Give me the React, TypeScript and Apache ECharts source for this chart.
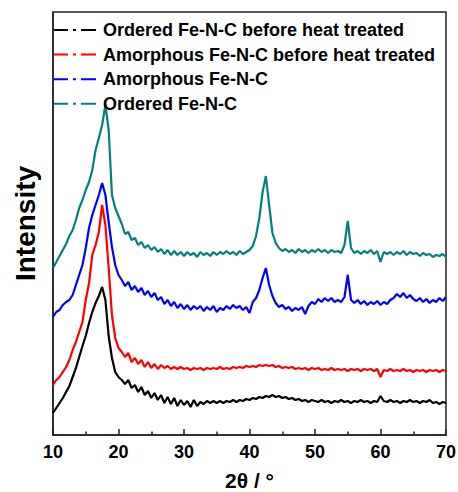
import React, { useEffect, useRef } from "react";
import * as echarts from "echarts";

const seriesNames = [
  "Ordered Fe-N-C before heat treated",
  "Amorphous Fe-N-C before heat treated",
  "Amorphous Fe-N-C",
  "Ordered Fe-N-C",
];
const seriesColors = ["#000000", "#ff0000", "#0000ff", "#008080"];

// 2θ from 10 to 70 in 0.5° steps
const twoTheta: number[] = [
  10, 10.5, 11, 11.5, 12, 12.5, 13, 13.5, 14, 14.5,
  15, 15.5, 16, 16.5, 17, 17.5, 18, 18.5, 19, 19.5,
  20, 20.5, 21, 21.5, 22, 22.5, 23, 23.5, 24, 24.5,
  25, 25.5, 26, 26.5, 27, 27.5, 28, 28.5, 29, 29.5,
  30, 30.5, 31, 31.5, 32, 32.5, 33, 33.5, 34, 34.5,
  35, 35.5, 36, 36.5, 37, 37.5, 38, 38.5, 39, 39.5,
  40, 40.5, 41, 41.5, 42, 42.5, 43, 43.5, 44, 44.5,
  45, 45.5, 46, 46.5, 47, 47.5, 48, 48.5, 49, 49.5,
  50, 50.5, 51, 51.5, 52, 52.5, 53, 53.5, 54, 54.5,
  55, 55.5, 56, 56.5, 57, 57.5, 58, 58.5, 59, 59.5,
  60, 60.5, 61, 61.5, 62, 62.5, 63, 63.5, 64, 64.5,
  65, 65.5, 66, 66.5, 67, 67.5, 68, 68.5, 69, 69.5,
  70,
];

const orderedBefore: number[] = [
  22, 27, 32, 37, 43, 49, 58, 67, 78, 89,
  99, 112, 123, 132, 139, 148, 135, 99, 77, 63,
  58, 55, 51, 55, 47, 50, 43, 48, 40, 44,
  37, 42, 35, 40, 32, 38, 31, 37, 29, 35,
  30, 34, 28, 35, 29, 33, 31, 34, 32, 34,
  32, 34, 32, 34, 33, 35, 33, 35, 34, 36,
  35, 37, 36, 38, 37, 39, 38, 40, 38, 39,
  37, 38, 36, 37, 35, 36, 34, 35, 33, 35,
  34, 33, 35, 33, 34, 32, 34, 33, 35, 33,
  34, 32, 34, 33, 35, 33, 34, 32, 34, 33,
  39, 34, 33, 35, 33, 34, 32, 34, 33, 35,
  33, 34, 32, 34, 33, 35, 32, 33, 31, 33,
  32,
];

const amorphousBefore: number[] = [
  50, 55, 58, 63, 68, 75, 85, 93, 103, 113,
  135, 152, 180, 190, 203, 230, 210, 167, 120, 97,
  87, 83, 78, 82, 73, 77, 71, 75, 68, 73,
  67, 71, 66, 70, 67, 69, 66, 68, 66, 68,
  66, 67, 65, 67, 66, 67, 65, 67, 66, 67,
  66, 68, 66, 67, 66, 68, 67, 68, 67, 69,
  68, 69, 68, 70, 69, 70, 69, 70, 68, 69,
  67, 68, 67, 68, 66, 67, 66, 67, 65, 67,
  66, 67, 65, 66, 65, 67, 65, 66, 65, 66,
  64, 66, 65, 66, 64, 66, 65, 66, 64, 66,
  58, 65, 64, 66, 64, 65, 64, 66, 64, 65,
  63, 65, 64, 65, 63, 65, 64, 65, 63, 65,
  64,
];

const amorphous: number[] = [
  118, 123, 125, 130, 133, 135, 140, 150, 160, 170,
  187, 207, 220, 230, 240, 252, 240, 213, 188, 170,
  160, 155, 149, 153, 145, 149, 143, 147, 140, 144,
  138, 142, 135, 138, 131, 135, 129, 133, 127, 131,
  126, 130, 125, 129, 126, 129, 124, 128, 125, 129,
  123, 127, 125, 129, 126, 130, 127, 129, 125, 128,
  122, 133, 137, 145, 157, 167, 150, 139, 132, 128,
  130, 126, 128, 124, 127, 125, 128, 121, 129, 133,
  131, 136, 133, 137, 134, 137, 133, 135, 133, 138,
  160, 135, 132, 135, 131, 134, 130, 133, 131, 134,
  130, 133, 131, 135, 137, 141, 138, 142, 137, 140,
  136, 134, 137, 133, 136, 132, 135, 133, 137, 134,
  138,
];

const ordered: number[] = [
  167, 173, 179, 185, 191, 199, 205, 215, 227, 235,
  245, 253, 265, 285, 297, 310, 330, 305, 240, 227,
  219, 211, 201, 203, 195, 197, 190, 193, 187, 190,
  185, 188, 183, 186, 181, 185, 180, 184, 180, 183,
  179, 183, 180, 182, 178, 183, 180, 182, 179, 183,
  180, 183, 181, 184, 181, 183, 180, 184, 181, 183,
  185, 189, 199, 217, 243, 259, 230, 202, 192, 187,
  184, 186, 183, 185, 182, 186, 183, 185, 182, 185,
  183, 186, 183, 185, 182, 185, 183, 184, 182, 190,
  214, 187, 182, 184, 181, 184, 182, 185, 181, 184,
  173, 183, 181, 183, 180, 183, 181, 184, 180, 183,
  181, 182, 179, 182, 180, 181, 178, 180, 179, 181,
  178,
];

const seriesValues = [orderedBefore, amorphousBefore, amorphous, ordered];

const xTickValues = [10, 20, 30, 40, 50, 60, 70];

const dashDotIcon =
  "path://M0,0h14v2h-14z M19,0h3v2h-3z M27,0h15v2h-15z";

export default function App() {
  const ref = useRef<HTMLDivElement>(null);

  useEffect(() => {
    if (!ref.current) return;
    const chart = echarts.init(ref.current, undefined, { renderer: "svg" });
    const font = "Arial, 'Liberation Sans', Helvetica, sans-serif";
    chart.setOption({
      animation: false,
      backgroundColor: "#ffffff",
      grid: {
        left: 53,
        right: 12,
        top: 12,
        bottom: 57,
        containLabel: false,
        outerBoundsMode: "none",
        show: true,
        borderColor: "#222222",
        borderWidth: 1.5,
      },
      legend: {
        orient: "vertical",
        left: 54,
        top: 21,
        padding: 0,
        itemWidth: 42,
        itemHeight: 2,
        itemGap: 6.6,
        icon: dashDotIcon,
        textStyle: {
          fontFamily: font,
          fontWeight: "bold",
          fontSize: 18,
          color: "#000000",
          lineHeight: 15,
          padding: [0, 0, 0, 2],
        },
        data: seriesNames.map((name, i) => ({
          name,
          icon: dashDotIcon,
          itemStyle: { color: seriesColors[i] },
        })),
      },
      xAxis: {
        type: "value",
        min: xTickValues[0],
        max: xTickValues[xTickValues.length - 1],
        interval: 10,
        name: "2θ / °",
        nameLocation: "middle",
        nameGap: 35,
        nameTextStyle: {
          fontFamily: font,
          fontWeight: "bold",
          fontSize: 21,
          lineHeight: 21,
          color: "#000000",
        },
        axisLine: { show: true, lineStyle: { color: "#222222", width: 1.5 } },
        axisTick: {
          show: true,
          inside: true,
          length: 6,
          lineStyle: { color: "#222222", width: 1.5 },
        },
        minorTick: {
          show: true,
          splitNumber: 2,
          length: 3.5,
          lineStyle: { color: "#222222", width: 1.5 },
        },
        axisLabel: {
          fontFamily: font,
          fontWeight: "bold",
          fontSize: 18,
          color: "#000000",
          margin: 8,
        },
        splitLine: { show: false },
      },
      yAxis: {
        type: "value",
        min: 0,
        max: 423,
        name: "Intensity",
        nameLocation: "middle",
        nameGap: 14,
        nameRotate: 90,
        nameTextStyle: {
          fontFamily: font,
          fontWeight: "bold",
          fontSize: 28,
          color: "#000000",
        },
        axisLine: { show: true, lineStyle: { color: "#222222", width: 1.5 } },
        axisTick: { show: false },
        axisLabel: { show: false },
        splitLine: { show: false },
      },
      series: seriesNames.map((name, i) => ({
        name,
        type: "line",
        symbol: "none",
        color: seriesColors[i],
        lineStyle: { color: seriesColors[i], width: 2.2 },
        data: twoTheta.map((x, j) => [x, seriesValues[i][j]]),
      })),
    });
    return () => chart.dispose();
  }, []);

  return (
    <div
      ref={ref}
      style={{ position: "fixed", left: 0, top: 0, width: 458, height: 492 }}
    />
  );
}
